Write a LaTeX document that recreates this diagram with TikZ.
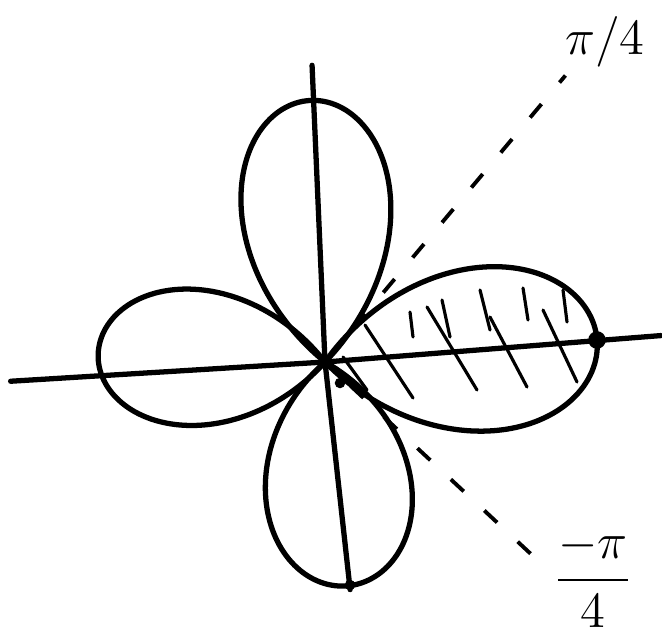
\documentclass[tikz,border=0pt]{standalone}
\usepackage{amsmath}
\usepackage{tikz}
\usetikzlibrary{calc}
\tikzset{
  petalo/.style={line width=1.5pt,line join=round},
  eje/.style={line width=1.5pt,line cap=round},
  guia/.style={line width=1.1pt,dash pattern=on 5pt off 8pt},
  rayado/.style={line width=0.9pt,line cap=round},
  punto/.style={circle,fill,inner sep=0pt,minimum size=#1},
  etiqueta/.style={font=\Large}
}

\begin{document}
\begin{tikzpicture}
\useasboundingbox (0,0) rectangle (6.62,6.37);
\coordinate (O) at (3.25,2.75);
% ejes
\draw[eje] ($(O)+(183.5:3.15)$) -- (O) -- ($(O)+(4.5:3.37)$);
\draw[eje] ($(O)+(92.5:2.97)$) -- (O) -- ($(O)+(-83.7:2.29)$);
% rosa de cuatro petalos
\begin{scope}[shift={(O)}]
\foreach \a/\l/\k in {4.6/2.73/1.8, 93.3/2.62/1.9, 178/2.27/1.8, -84/2.25/1.65}
  \draw[petalo] plot[smooth,domain={-90/\k}:{90/\k},samples=61] ({\a+\x}:{\l*cos(\k*\x)});
\end{scope}
% rayado del petalo derecho
\foreach \xa/\ya/\xb/\yb in {3.65/3.12/4.13/2.39, 4.27/3.30/4.77/2.47, 4.90/3.20/5.27/2.50,
                             5.43/3.27/5.77/2.55, 3.43/2.80/3.67/2.47,
                             4.10/3.25/4.13/3.00, 4.42/3.37/4.50/3.00, 4.80/3.47/4.90/3.07,
                             5.23/3.49/5.28/3.17, 5.63/3.47/5.67/3.15}
  \draw[rayado] (\xa,\ya) -- (\xb,\yb);
% rectas guia
\draw[guia] ($(O)+(50:0.45)$) -- ($(O)+(50:3.74)$) coordinate (g1);
\draw[guia] ($(O)+(-43:0.35)$) -- ($(O)+(-43:2.81)$) coordinate (g2);
% puntos
\node[punto=5pt] (tip) at (5.97,2.97) {};
\node[punto=3pt] (bajo) at (3.50,0.52) {};
\node[punto=3pt] (cerca) at (3.40,2.54) {};
% etiquetas
\node[etiqueta] (pi4) at (6.05,5.95) {$\pi/4$};
\node[etiqueta] (menospi4) at (5.93,0.59) {$\dfrac{-\pi}{4}$};
\end{tikzpicture}
\end{document}
